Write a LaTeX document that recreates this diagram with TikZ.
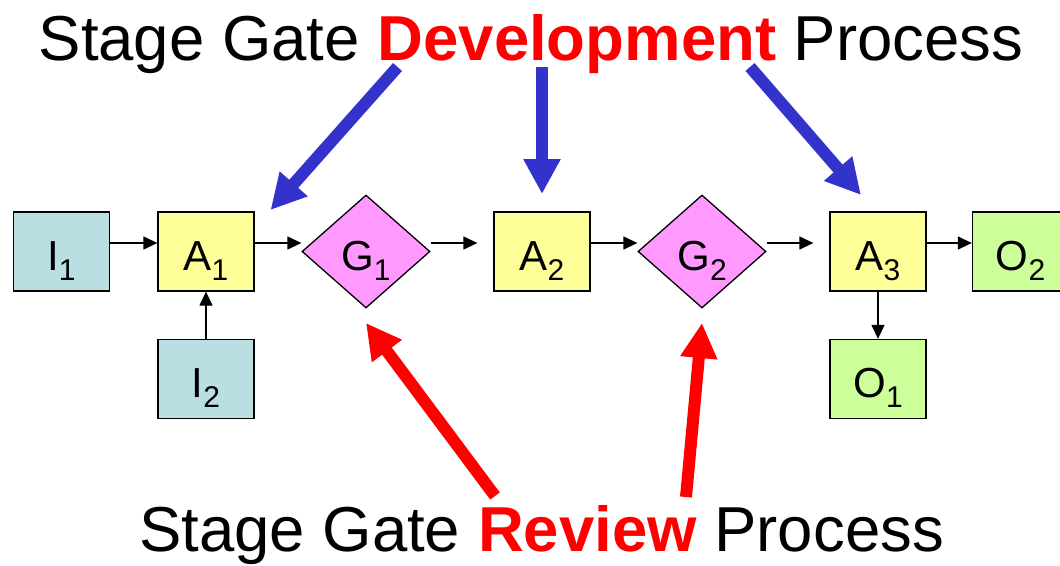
\documentclass[tikz,border=0pt]{standalone}
\usepackage{fontspec}
\setmainfont{Liberation Sans}
\usetikzlibrary{shapes.geometric,arrows.meta}

\definecolor{inputfill}{HTML}{B9DFE3}
\definecolor{actfill}{HTML}{FFFF99}
\definecolor{gatefill}{HTML}{FF99FF}
\definecolor{outfill}{HTML}{CCFF99}
\definecolor{devblue}{HTML}{3333CC}
\definecolor{revred}{HTML}{FF0000}

% letter with a lowered index digit
\newcommand{\boxlabel}[2]{#1\raisebox{-10pt}{\fontsize{30}{30}\selectfont #2}}

\tikzset{
  blk/.style={draw=black, line width=1.3pt, inner sep=0pt,
    minimum width=96pt, minimum height=79pt,
    font=\fontsize{42}{42}\selectfont, text height=37pt, text depth=0pt},
  inbox/.style={blk, fill=inputfill},
  actbox/.style={blk, fill=actfill},
  outbox/.style={blk, fill=outfill},
  gatebox/.style={blk, shape=diamond, fill=gatefill,
    minimum width=128pt, minimum height=113pt},
  conn/.style={draw=black, line width=1.3pt,
    -{Triangle[length=14pt,width=13pt]}},
  bigarrow/.style={line width=12pt,
    -{Triangle[length=35pt,width=35pt]}},
  devarrow/.style={bigarrow, draw=devblue, fill=devblue},
  revarrow/.style={bigarrow, draw=revred, fill=revred},
  title/.style={inner sep=0pt, anchor=base,
    font=\fontsize{63.5}{64}\selectfont},
}

\begin{document}
\begin{tikzpicture}[x=1pt, y=-1pt]
\useasboundingbox (0,0) rectangle (1060,565);
\clip (0,0) rectangle (1060,565);

% process chain
\node[inbox]   (I1) at (61.5,251.5)  {\boxlabel{I}{1}};
\node[actbox]  (A1) at (206,251.5)   {\boxlabel{A}{1}};
\node[inbox]   (I2) at (206,379)     {\boxlabel{I}{2}};
\node[gatebox] (G1) at (366,251.5)   {\boxlabel{G}{1}};
\node[actbox]  (A2) at (542,251.5)   {\boxlabel{A}{2}};
\node[gatebox] (G2) at (702,251.5)   {\boxlabel{G}{2}};
\node[actbox]  (A3) at (878,251.5)   {\boxlabel{A}{3}};
\node[outbox]  (O1) at (878,379)     {\boxlabel{O}{1}};
\node[outbox]  (O2) at (1020.5,251.5){\boxlabel{O}{2}};

% flow connectors
\draw[conn] ([yshift=8.5pt]I1.east) -- ([yshift=8.5pt]A1.west);
\draw[conn] (I2.north) -- (A1.south);
\draw[conn] ([yshift=8.5pt]A1.east) -- ([yshift=8.5pt]G1.west);
\draw[conn] ([yshift=8.5pt]G1.east) -- ([xshift=-16pt,yshift=8.5pt]A2.west);
\draw[conn] ([yshift=8.5pt]A2.east) -- ([yshift=8.5pt]G2.west);
\draw[conn] ([yshift=8.5pt]G2.east) -- ([xshift=-16pt,yshift=8.5pt]A3.west);
\draw[conn] ([yshift=8.5pt]A3.east) -- ([yshift=8.5pt]O2.west);
\draw[conn] (A3.south) -- (O1.north);

% titles
\node[title] (dev) at (531,60)
  {Stage Gate \textbf{\color{revred}Development} Process};
\node[title] (rev) at (541.5,551)
  {Stage Gate \textbf{\color{revred}Review} Process};

% development pointers
\coordinate (d1s) at (397.5,67);  \coordinate (d1e) at (270.5,210);
\coordinate (d2s) at (542,67);    \coordinate (d2e) at (542,194);
\coordinate (d3s) at (750,67);    \coordinate (d3e) at (861,195);
\draw[devarrow] (d1s) -- (d1e);
\draw[devarrow] (d2s) -- (d2e);
\draw[devarrow] (d3s) -- (d3e);

% review pointers
\coordinate (r1s) at (495,496);   \coordinate (r1e) at (366,323);
\coordinate (r2s) at (686,497);   \coordinate (r2e) at (702,323);
\draw[revarrow] (r1s) -- (r1e);
\draw[revarrow] (r2s) -- (r2e);
\end{tikzpicture}
\end{document}
